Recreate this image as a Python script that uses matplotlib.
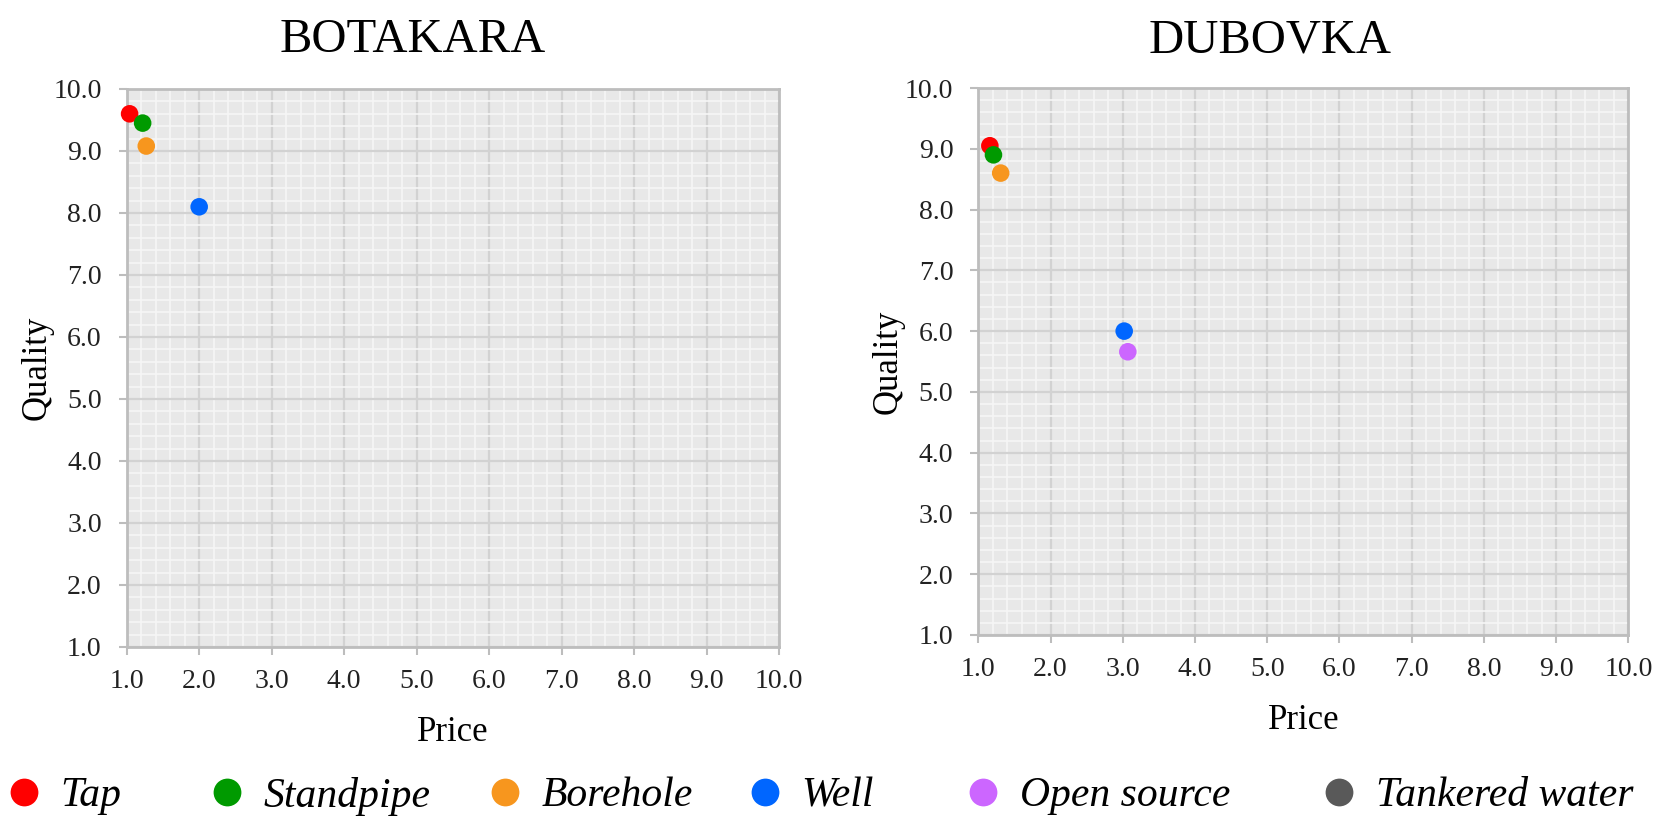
"""
Price vs quality of water sources, two settlements
"""

# %% Packages
import matplotlib
matplotlib.use("Agg")
import matplotlib.pyplot as plt
from matplotlib.lines import Line2D
from matplotlib.ticker import MultipleLocator, FormatStrFormatter

plt.rcParams['font.family'] = ['Liberation Serif', 'DejaVu Serif']

# %% Data
sources = ['Tap', 'Standpipe', 'Borehole', 'Well', 'Open source', 'Tankered water']
colors = ['#FF0000', '#009A00', '#F7961E', '#0066FF', '#CC66FF', '#595959']

botakara_price = [1.04, 1.22, 1.27, 2.0]
botakara_quality = [9.6, 9.45, 9.08, 8.1]

dubovka_price = [1.16, 1.21, 1.31, 3.02, 3.07]
dubovka_quality = [9.05, 8.9, 8.6, 6.0, 5.66]

ticks = [1.0, 2.0, 3.0, 4.0, 5.0, 6.0, 7.0, 8.0, 9.0, 10.0]

# %% Figure
W, H = 1674, 818
fig = plt.figure(figsize=(W / 100, H / 100), dpi=100)

ax1 = fig.add_axes([126.7 / W, 1 - 647 / H, 652.3 / W, 558 / H])
ax2 = fig.add_axes([978.3 / W, 1 - 635 / H, 650 / W, 547 / H])


def style(ax):
    ax.set_facecolor('#E8E8E8')
    ax.set_xlim(1, 10)
    ax.set_ylim(1, 10)
    ax.set_xticks(ticks)
    ax.set_yticks(ticks)
    ax.xaxis.set_major_formatter(FormatStrFormatter('%.1f'))
    ax.yaxis.set_major_formatter(FormatStrFormatter('%.1f'))
    ax.xaxis.set_minor_locator(MultipleLocator(0.2))
    ax.yaxis.set_minor_locator(MultipleLocator(0.2))
    ax.grid(which='minor', color='#F6F6F6', lw=1.2)
    ax.grid(which='major', color='#D2D2D2', lw=1.6)
    ax.set_axisbelow(True)
    for s in ax.spines.values():
        s.set_color('#BDBDBD')
        s.set_linewidth(2)
    ax.tick_params(which='major', direction='out', length=6, width=1.5,
                   color='#BDBDBD', labelsize=20, labelcolor='#222222')
    ax.tick_params(axis='x', pad=10)
    ax.tick_params(axis='y', pad=12)
    ax.tick_params(which='minor', length=0)
    ax.set_xlabel('Price', fontsize=25, labelpad=16)
    ax.set_ylabel('Quality', fontsize=25, labelpad=0)


style(ax1)
style(ax2)

ax1.scatter(botakara_price, botakara_quality, s=160, c=colors[:4], zorder=3, lw=0, clip_on=False)
ax2.scatter(dubovka_price, dubovka_quality, s=160, c=colors[:5], zorder=3, lw=0, clip_on=False)

fig.text(412.6 / W, 1 - 40.5 / H, 'BOTAKARA', fontsize=35, ha='center', va='center')
fig.text(1270 / W, 1 - 40.5 / H, 'DUBOVKA', fontsize=35, ha='center', va='center')

# %% Legend, one entry each so spacing matches
legend_x = [23.5, 227, 505, 765, 983, 1339]
fs = 30
em = fs * 100 / 72
for name, col, xc in zip(sources, colors, legend_x):
    h = Line2D([], [], ls='none', marker='o', ms=20, color=col, mec='none')
    fig.legend(handles=[h], labels=[name], loc='center left',
               bbox_to_anchor=((xc - em / 2) / W, 22 / H),
               frameon=False, borderpad=0, borderaxespad=0,
               handlelength=1, handletextpad=0.38,
               prop={'size': fs, 'style': 'italic', 'family': 'Liberation Serif'})

fig.savefig('out.png', dpi=100)
